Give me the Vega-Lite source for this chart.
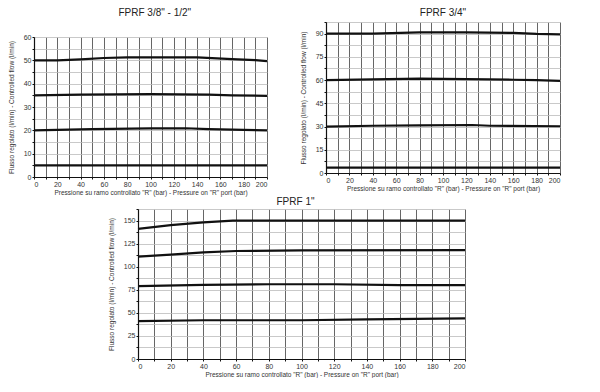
{
  "$schema": "https://vega.github.io/schema/vega-lite/v6.json",
  "padding": {"left": 8, "top": 7, "right": 0, "bottom": 0},
  "autosize": {"type": "pad"},
  "background": "white",
  "config": {
    "font": "Liberation Sans",
    "view": {"stroke": null},
    "title": {"fontSize": 10, "fontWeight": "normal", "color": "#222", "anchor": "middle"},
    "axis": {
      "labelFontSize": 7, "labelColor": "#333", "titleFontSize": 6.5, "titleFontWeight": "normal", "titleColor": "#333",
      "domainColor": "#111", "domainWidth": 1.2, "tickColor": "#111", "tickSize": 2, "labelPadding": 1
    },
    "axisX": {"gridColor": "#555", "gridWidth": 0.9, "titlePadding": 2},
    "axisY": {"gridColor": "#bbb", "gridWidth": 0.8, "titlePadding": 9}
  },
  "datasets": {
    "none": [],
    "pts": [
      {"c": "a", "s": 1, "p": 0, "q": 50}, {"c": "a", "s": 1, "p": 20, "q": 50}, {"c": "a", "s": 1, "p": 40, "q": 50.4}, {"c": "a", "s": 1, "p": 60, "q": 51}, {"c": "a", "s": 1, "p": 80, "q": 51.3}, {"c": "a", "s": 1, "p": 140, "q": 51.3}, {"c": "a", "s": 1, "p": 170, "q": 50.5}, {"c": "a", "s": 1, "p": 190, "q": 50.1}, {"c": "a", "s": 1, "p": 200, "q": 49.7},
      {"c": "a", "s": 2, "p": 0, "q": 35}, {"c": "a", "s": 2, "p": 40, "q": 35.3}, {"c": "a", "s": 2, "p": 100, "q": 35.5}, {"c": "a", "s": 2, "p": 150, "q": 35.3}, {"c": "a", "s": 2, "p": 170, "q": 35}, {"c": "a", "s": 2, "p": 200, "q": 34.8},
      {"c": "a", "s": 3, "p": 0, "q": 20}, {"c": "a", "s": 3, "p": 50, "q": 20.5}, {"c": "a", "s": 3, "p": 100, "q": 20.8}, {"c": "a", "s": 3, "p": 130, "q": 20.9}, {"c": "a", "s": 3, "p": 150, "q": 20.5}, {"c": "a", "s": 3, "p": 180, "q": 20.2}, {"c": "a", "s": 3, "p": 200, "q": 20},
      {"c": "a", "s": 4, "p": 0, "q": 5}, {"c": "a", "s": 4, "p": 200, "q": 5},
      {"c": "b", "s": 1, "p": 0, "q": 90}, {"c": "b", "s": 1, "p": 40, "q": 90}, {"c": "b", "s": 1, "p": 80, "q": 90.8}, {"c": "b", "s": 1, "p": 120, "q": 90.8}, {"c": "b", "s": 1, "p": 160, "q": 90.5}, {"c": "b", "s": 1, "p": 180, "q": 89.8}, {"c": "b", "s": 1, "p": 200, "q": 89.5},
      {"c": "b", "s": 2, "p": 0, "q": 60}, {"c": "b", "s": 2, "p": 40, "q": 60.5}, {"c": "b", "s": 2, "p": 80, "q": 61}, {"c": "b", "s": 2, "p": 120, "q": 60.6}, {"c": "b", "s": 2, "p": 160, "q": 60.2}, {"c": "b", "s": 2, "p": 180, "q": 60}, {"c": "b", "s": 2, "p": 200, "q": 59.5},
      {"c": "b", "s": 3, "p": 0, "q": 30}, {"c": "b", "s": 3, "p": 40, "q": 30.5}, {"c": "b", "s": 3, "p": 80, "q": 30.8}, {"c": "b", "s": 3, "p": 125, "q": 31}, {"c": "b", "s": 3, "p": 140, "q": 30.5}, {"c": "b", "s": 3, "p": 200, "q": 30.2},
      {"c": "b", "s": 4, "p": 0, "q": 3.5}, {"c": "b", "s": 4, "p": 200, "q": 3.5},
      {"c": "c", "s": 1, "p": 0, "q": 141}, {"c": "c", "s": 1, "p": 20, "q": 145}, {"c": "c", "s": 1, "p": 40, "q": 148}, {"c": "c", "s": 1, "p": 58, "q": 150}, {"c": "c", "s": 1, "p": 200, "q": 150},
      {"c": "c", "s": 2, "p": 0, "q": 111}, {"c": "c", "s": 2, "p": 20, "q": 113}, {"c": "c", "s": 2, "p": 40, "q": 115.5}, {"c": "c", "s": 2, "p": 60, "q": 117}, {"c": "c", "s": 2, "p": 100, "q": 117.7}, {"c": "c", "s": 2, "p": 200, "q": 118},
      {"c": "c", "s": 3, "p": 0, "q": 79}, {"c": "c", "s": 3, "p": 40, "q": 80.3}, {"c": "c", "s": 3, "p": 80, "q": 81}, {"c": "c", "s": 3, "p": 120, "q": 81}, {"c": "c", "s": 3, "p": 160, "q": 80}, {"c": "c", "s": 3, "p": 200, "q": 80},
      {"c": "c", "s": 4, "p": 0, "q": 41}, {"c": "c", "s": 4, "p": 40, "q": 42}, {"c": "c", "s": 4, "p": 100, "q": 42}, {"c": "c", "s": 4, "p": 140, "q": 43}, {"c": "c", "s": 4, "p": 200, "q": 44}
    ]
  },
  "vconcat": [
    {
      "hconcat": [
        {
          "title": {"text": "FPRF 3/8\" - 1/2\"", "offset": 4, "anchor": "middle", "dx": 15},
          "spacing": 0,
          "vconcat": [
            {"width": 233, "height": 11, "data": {"name": "none"}, "mark": "point"},
            {
              "width": 233, "height": 140,
              "data": {"name": "pts"},
              "transform": [{"filter": "datum.c === 'a'"}],
              "mark": {"type": "line", "color": "#111", "strokeWidth": 2.2},
              "encoding": {
                "x": {"field": "p", "type": "quantitative", "scale": {"domain": [0, 200], "nice": false},
                  "axis": {"title": "Pressione su ramo controllato \"R\" (bar) - Pressure on \"R\" port (bar)", "values": [0,10,20,30,40,50,60,70,80,90,100,110,120,130,140,150,160,170,180,190,200], "labelExpr": "datum.value % 20 === 0 ? datum.label : ''"}},
                "y": {"field": "q", "type": "quantitative", "scale": {"domain": [0, 60], "nice": false},
                  "axis": {"title": "Flusso regolato (l/min) - Controlled flow (l/min)", "values": [0,5,10,15,20,25,30,35,40,45,50,55,60], "labelExpr": "datum.value % 10 === 0 ? datum.label : ''"}},
                "detail": {"field": "s"}
              }
            }
          ]
        },
        {
          "title": {"text": "FPRF 3/4\"", "offset": 4},
          "width": 234, "height": 151,
          "data": {"name": "pts"},
          "transform": [{"filter": "datum.c === 'b'"}],
          "mark": {"type": "line", "color": "#111", "strokeWidth": 2.2},
          "encoding": {
            "x": {"field": "p", "type": "quantitative", "scale": {"domain": [0, 200], "nice": false},
              "axis": {"title": "Pressione su ramo controllato \"R\" (bar) - Pressure on \"R\" port (bar)", "values": [0,10,20,30,40,50,60,70,80,90,100,110,120,130,140,150,160,170,180,190,200], "labelExpr": "datum.value % 20 === 0 ? datum.label : ''"}},
            "y": {"field": "q", "type": "quantitative", "scale": {"domain": [0, 97.5], "nice": false},
              "axis": {"title": "Flusso regolato (l/min) - Controlled flow (l/min)", "values": [0,7.5,15,22.5,30,37.5,45,52.5,60,67.5,75,82.5,90,97.5], "labelExpr": "datum.value % 15 === 0 ? datum.label : ''"}},
            "detail": {"field": "s"}
          }
        }
      ],
      "spacing": 28
    },
    {
      "hconcat": [
        {"width": 74, "height": 150, "data": {"name": "none"}, "mark": "point"},
        {
          "title": {"text": "FPRF 1\"", "offset": 2, "dx": -6},
          "width": 327, "height": 150,
          "data": {"name": "pts"},
          "transform": [{"filter": "datum.c === 'c'"}],
          "mark": {"type": "line", "color": "#111", "strokeWidth": 2.2},
          "encoding": {
            "x": {"field": "p", "type": "quantitative", "scale": {"domain": [0, 200], "nice": false},
              "axis": {"title": "Pressione su ramo controllato \"R\" (bar) - Pressure on \"R\" port (bar)", "values": [0,10,20,30,40,50,60,70,80,90,100,110,120,130,140,150,160,170,180,190,200], "labelExpr": "datum.value % 20 === 0 ? datum.label : ''"}},
            "y": {"field": "q", "type": "quantitative", "scale": {"domain": [0, 162.5], "nice": false},
              "axis": {"title": "Flusso regolato (l/min) - Controlled flow (l/min)", "values": [0,12.5,25,37.5,50,62.5,75,87.5,100,112.5,125,137.5,150,162.5], "labelExpr": "datum.value % 25 === 0 ? datum.label : ''"}},
            "detail": {"field": "s"}
          }
        }
      ],
      "spacing": 0
    }
  ],
  "spacing": 0
}
